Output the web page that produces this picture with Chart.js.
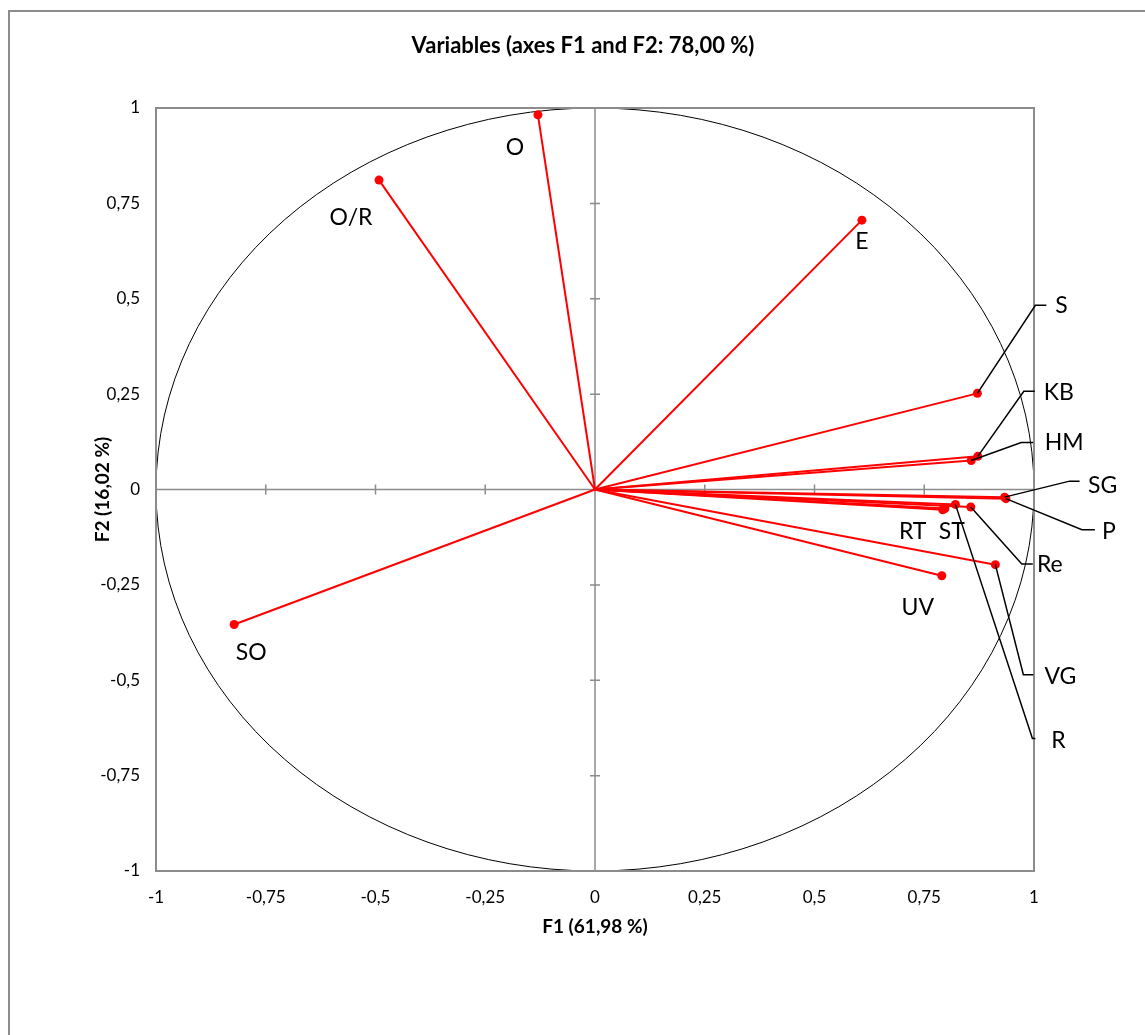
<!DOCTYPE html>
<html>
<head>
<meta charset="utf-8">
<script src="https://cdn.jsdelivr.net/npm/chart.js@4/dist/chart.umd.min.js"></script>
<style>
  html, body { margin: 0; padding: 0; background: #fff; }
  #wrap { position: relative; width: 1145px; height: 1035px; overflow: hidden; }
  #frame { position: absolute; left: 8px; top: 10px; width: 1160px; height: 1060px; border: 2px solid #8c8c8c; box-sizing: border-box; }
  canvas { position: absolute; left: 0; top: 0; }
</style>
</head>
<body>
<div id="wrap">
  <div id="frame"></div>
  <canvas id="myChart" width="1145" height="1035"></canvas>
</div>
<script>
// variables and their coordinates on F1 / F2
const variables = ['O', 'O/R', 'E', 'S', 'KB', 'HM', 'SG', 'P', 'RT', 'ST', 'R', 'Re', 'UV', 'VG', 'SO'];
const f1 = [-0.130, -0.492, 0.608, 0.871, 0.872, 0.857, 0.933, 0.936, 0.792, 0.797, 0.821, 0.856, 0.790, 0.912, -0.822];
const f2 = [0.982, 0.811, 0.706, 0.252, 0.087, 0.076, -0.020, -0.024, -0.053, -0.050, -0.039, -0.046, -0.226, -0.197, -0.354];
const tickValues = [-1, -0.75, -0.5, -0.25, 0, 0.25, 0.5, 0.75, 1];

const titleText = 'Variables (axes F1 and F2: 78,00 %)';
const xTitle = 'F1 (61,98 %)';
const yTitle = 'F2 (16,02 %)';

// label placement, in pixels from the point (label centre, then leader elbow + end of leader)
const labelPlace = {
  'O':   { d: [-23, 33] },
  'O/R': { d: [-28, 37] },
  'E':   { d: [0, 21] },
  'S':   { d: [84, -88],  lead: [58, -88, 69] },
  'KB':  { d: [81, -64],  lead: [46, -65, 57] },
  'HM':  { d: [93, -18],  lead: [50, -18, 62] },
  'SG':  { d: [98, -12],  lead: [65, -16, 75] },
  'P':   { d: [103, 33],  lead: [76, 31, 89] },
  'RT':  { d: [-30, 22] },
  'ST':  { d: [7, 23] },
  'R':   { d: [103, 236], lead: [77, 234, 80] },
  'Re':  { d: [79, 58],   lead: [51, 57, 62] },
  'UV':  { d: [-24, 32] },
  'VG':  { d: [65, 112],  lead: [28, 110, 38] },
  'SO':  { d: [17, 28] }
};

const RED = '#ff0000';
const FONT = 'Lato, "Open Sans", sans-serif';

function fmt(v) {
  return String(v).replace('.', ',');
}

//BACKGROUND: box, unit circle, centre axes with tick marks
const backPlugin = {
  id: 'back',
  beforeDatasetsDraw(chart) {
    const ctx = chart.ctx;
    const a = chart.chartArea;
    const xs = chart.scales.x, ys = chart.scales.y;
    const cx = xs.getPixelForValue(0), cy = ys.getPixelForValue(0);
    ctx.save();
    // circle of radius 1
    ctx.strokeStyle = '#000';
    ctx.lineWidth = 1;
    ctx.beginPath();
    ctx.ellipse(cx, cy, xs.getPixelForValue(1) - cx, cy - ys.getPixelForValue(1), 0, 0, Math.PI * 2);
    ctx.stroke();
    // axes through 0
    ctx.strokeStyle = '#8c8c8c';
    ctx.lineWidth = 1.5;
    ctx.beginPath();
    ctx.moveTo(a.left, cy); ctx.lineTo(a.right, cy);
    ctx.moveTo(cx, a.top); ctx.lineTo(cx, a.bottom);
    tickValues.forEach(v => {
      const px = xs.getPixelForValue(v), py = ys.getPixelForValue(v);
      ctx.moveTo(px, cy - 5); ctx.lineTo(px, cy + 5);
      ctx.moveTo(cx - 5, py); ctx.lineTo(cx + 5, py);
    });
    ctx.stroke();
    // box
    ctx.lineWidth = 2;
    ctx.strokeRect(a.left, a.top, a.right - a.left, a.bottom - a.top);
    ctx.restore();
  }
};

//TEXTS: title, axis titles, variable labels and leaders
const textPlugin = {
  id: 'texts',
  afterDatasetsDraw(chart) {
    const ctx = chart.ctx;
    const a = chart.chartArea;
    const xs = chart.scales.x, ys = chart.scales.y;
    ctx.save();
    ctx.fillStyle = '#000';
    ctx.textAlign = 'center';
    ctx.textBaseline = 'middle';
    ctx.font = 'bold 22px ' + FONT;
    ctx.fillText(titleText, 583, 46);
    ctx.font = 'bold 19px ' + FONT;
    ctx.fillText(xTitle, (a.left + a.right) / 2, 927);
    ctx.save();
    ctx.translate(103, (a.top + a.bottom) / 2);
    ctx.rotate(-Math.PI / 2);
    ctx.fillText(yTitle, 0, 0);
    ctx.restore();

    ctx.font = '23px ' + FONT;
    ctx.strokeStyle = '#000';
    ctx.lineWidth = 1.5;
    variables.forEach((name, i) => {
      const px = xs.getPixelForValue(f1[i]);
      const py = ys.getPixelForValue(f2[i]);
      const p = labelPlace[name];
      if (p.lead) {
        ctx.beginPath();
        ctx.moveTo(px, py);
        ctx.lineTo(px + p.lead[0], py + p.lead[1]);
        ctx.lineTo(px + p.lead[2], py + p.lead[1]);
        ctx.stroke();
      }
      ctx.fillText(name, px + p.d[0], py + p.d[1]);
    });
    ctx.restore();
  }
};

// one line from the origin to each variable
const datasets = variables.map((name, i) => ({
  label: name,
  data: [{ x: 0, y: 0 }, { x: f1[i], y: f2[i] }],
  showLine: true,
  borderColor: RED,
  backgroundColor: RED,
  borderWidth: 2,
  pointRadius: [0, 4.5],
  pointHoverRadius: [0, 4.5],
  pointBorderWidth: 0
}));

const ctx = document.getElementById('myChart').getContext('2d');
const myChart = new Chart(ctx, {
  type: 'scatter',
  data: { datasets: datasets },
  plugins: [backPlugin, textPlugin],
  options: {
    responsive: false,
    animation: false,
    layout: {
      padding: { left: 0, top: 108, right: 111, bottom: 104 }
    },
    scales: {
      x: {
        type: 'linear',
        min: -1, max: 1,
        afterFit: (s) => { s.height = 60; },
        afterBuildTicks: (s) => { s.ticks = tickValues.map(v => ({ value: v })); },
        grid: { display: false, drawTicks: false },
        border: { display: false },
        ticks: {
          padding: 16,
          color: '#000',
          font: { family: FONT, size: 17 },
          callback: (v) => fmt(v)
        }
      },
      y: {
        type: 'linear',
        min: -1, max: 1,
        afterFit: (s) => { s.width = 156; },
        afterBuildTicks: (s) => { s.ticks = tickValues.map(v => ({ value: v })); },
        grid: { display: false, drawTicks: false },
        border: { display: false },
        ticks: {
          padding: 16,
          color: '#000',
          font: { family: FONT, size: 17 },
          callback: (v) => fmt(v)
        }
      }
    },
    plugins: {
      legend: { display: false },
      title: { display: false },
      tooltip: { enabled: false }
    }
  }
});
</script>
</body>
</html>
